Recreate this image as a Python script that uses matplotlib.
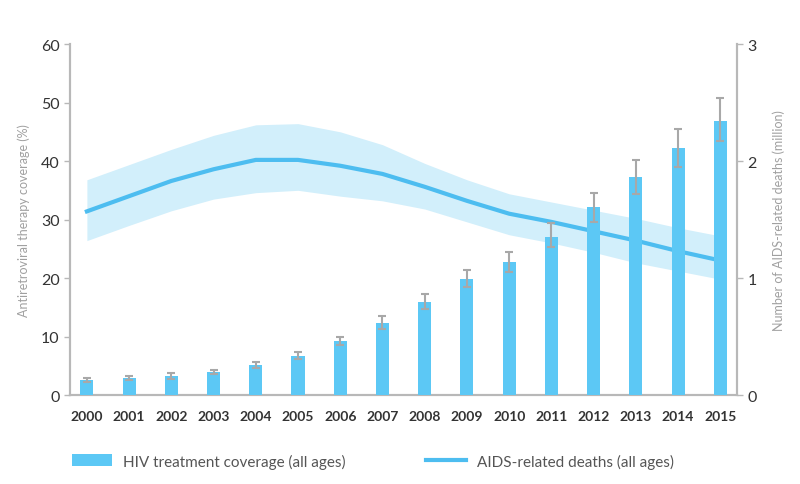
import matplotlib
matplotlib.use("Agg")
import matplotlib.pyplot as plt
from matplotlib.patches import Patch
from matplotlib.lines import Line2D
import numpy as np

plt.rcParams['font.family'] = ['Lato', 'DejaVu Sans']

years = ["2000", "2001", "2002", "2003", "2004", "2005", "2006", "2007",
         "2008", "2009", "2010", "2011", "2012", "2013", "2014", "2015"]
coverage = [2.6, 2.9, 3.2, 3.9, 5.1, 6.7, 9.2, 12.3, 15.9, 19.9, 22.7, 27.1, 32.2, 37.2, 42.2, 46.9]
cov_err_up = [0.3, 0.3, 0.5, 0.3, 0.5, 0.6, 0.8, 1.2, 1.4, 1.5, 1.8, 2.3, 2.4, 3.0, 3.3, 3.9]
cov_err_down = [0.3, 0.3, 0.4, 0.3, 0.4, 0.5, 0.7, 1.0, 1.2, 1.4, 1.7, 1.8, 2.6, 2.8, 3.2, 3.4]
deaths = [1.57, 1.70, 1.83, 1.93, 2.01, 2.01, 1.96, 1.89, 1.78, 1.66, 1.55, 1.48, 1.40, 1.32, 1.23, 1.15]
deaths_upper = [1.84, 1.97, 2.10, 2.22, 2.31, 2.32, 2.25, 2.14, 1.98, 1.84, 1.72, 1.65, 1.58, 1.51, 1.43, 1.36]
deaths_lower = [1.32, 1.45, 1.575, 1.675, 1.73, 1.75, 1.70, 1.66, 1.59, 1.48, 1.37, 1.30, 1.22, 1.13, 1.06, 0.99]

bar_color = "#5cc8f5"
line_color = "#4dbdf0"
band_color = "#d2effb"
axis_color = "#b8b8b8"
tick_color = "#333333"
label_color = "#a0a0a0"

fig = plt.figure(figsize=(8, 4.85), dpi=100)
ax = fig.add_axes([0.0875, 0.1835, 0.834, 0.7235])
ax2 = ax.twinx()

x = np.arange(len(years))
ax.bar(x, coverage, width=0.31, color=bar_color, zorder=3)
ax.errorbar(x, coverage, yerr=[cov_err_down, cov_err_up], fmt="none",
            ecolor="#a8a8a8", elinewidth=1.5, capsize=3, capthick=1.5, zorder=4)

ax2.fill_between(x, deaths_lower, deaths_upper, color=band_color, lw=0, zorder=1)
ax2.plot(x, deaths, color=line_color, lw=3, zorder=2)

# put bars above the band
ax.set_zorder(ax2.get_zorder() + 1)
ax.patch.set_visible(False)

ax.set_xlim(-0.4, 15.4)
ax.set_ylim(0, 60)
ax2.set_ylim(0, 3)
ax.set_yticks([0, 10, 20, 30, 40, 50, 60])
ax2.set_yticks([0, 1, 2, 3])
ax.set_xticks(x)
ax.set_xticklabels(years, fontsize=10, fontweight="bold", color=tick_color)

for a in (ax, ax2):
    a.spines["top"].set_visible(False)
    for s in ("left", "right", "bottom"):
        a.spines[s].set_color(axis_color)
        a.spines[s].set_linewidth(1.5)
    a.tick_params(axis="y", colors=axis_color, labelcolor=tick_color, labelsize=11.5,
                  length=4, width=1)
ax.tick_params(axis="x", length=0, pad=11)

ax.set_ylabel("Antiretroviral therapy coverage (%)", color=label_color, fontsize=9, labelpad=8)
ax2.set_ylabel("Number of AIDS-related deaths (million)", color=label_color, fontsize=9, labelpad=11)

leg_kw = dict(loc="center left", frameon=False, fontsize=11, labelcolor="#555555",
              handlelength=2.6, handleheight=0.85, handletextpad=0.72,
              borderpad=0, borderaxespad=0)
leg1 = fig.legend([Patch(facecolor=bar_color, edgecolor="none")],
                  ["HIV treatment coverage (all ages)"],
                  bbox_to_anchor=(72 / 800, 1 - 462 / 485), **leg_kw)
leg2 = fig.legend([Line2D([0], [0], color=line_color, lw=3)],
                  ["AIDS-related deaths (all ages)"],
                  bbox_to_anchor=(426 / 800, 1 - 462 / 485), **leg_kw)

fig.savefig("out.png", dpi=100)
